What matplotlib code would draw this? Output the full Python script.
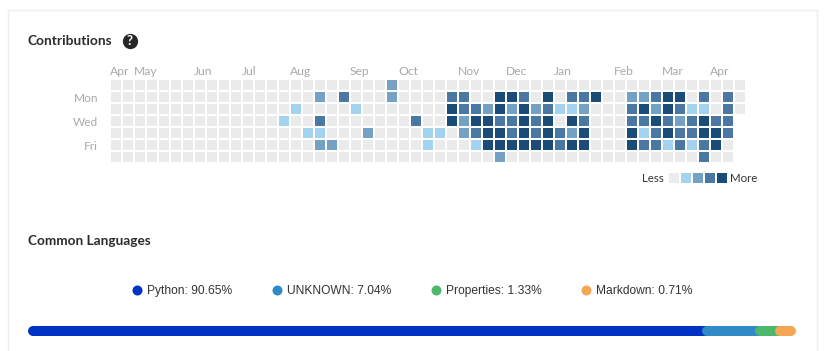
import numpy as np
import matplotlib
matplotlib.use('Agg')
import matplotlib.pyplot as plt
from matplotlib.colors import ListedColormap, BoundaryNorm
from matplotlib.patches import Rectangle

W, H = 826, 351

months = ['Apr', 'May', 'Jun', 'Jul', 'Aug', 'Sep', 'Oct', 'Nov', 'Dec', 'Jan', 'Feb', 'Mar', 'Apr']
month_cols = [0, 2, 7, 11, 15, 20, 24, 29, 33, 37, 42, 46, 50]
day_labels = ['Mon', 'Wed', 'Fri']
day_rows = [1, 3, 5]
level_colors = ['#ebebeb', '#a3d3ee', '#74a1c4', '#4b78a3', '#1b4b77']

# non zero cells per weekday row: {week column: level}
row0 = {23: 2}
row1 = {17: 2, 19: 3, 23: 2, 28: 3, 29: 3, 32: 4, 33: 4, 34: 3, 36: 4, 38: 3, 39: 3, 40: 4,
        43: 2, 44: 2, 45: 3, 46: 4, 47: 4, 49: 3, 51: 3}
row2 = {15: 1, 20: 1, 28: 4, 29: 3, 30: 3, 31: 2, 32: 4, 33: 2, 34: 4, 35: 2, 36: 3, 37: 1,
        38: 1, 39: 2, 43: 3, 44: 4, 45: 2, 46: 4, 47: 3, 48: 1, 49: 1, 51: 3}
row3 = {14: 1, 17: 3, 25: 3, 28: 4, 29: 2, 30: 4, 31: 4, 32: 3, 33: 3, 34: 4, 35: 3, 36: 4,
        38: 4, 39: 3, 43: 3, 44: 3, 45: 4, 46: 3, 47: 2, 48: 3, 49: 4, 50: 3, 51: 3}
row4 = {16: 1, 17: 1, 21: 2, 26: 1, 27: 1, 29: 2, 30: 3, 31: 4, 32: 4, 33: 3, 34: 4, 35: 3,
        36: 4, 37: 3, 38: 2, 39: 4, 43: 4, 44: 1, 45: 3, 46: 4, 47: 3, 48: 3, 49: 4, 50: 4, 51: 3}
row5 = {17: 2, 18: 2, 26: 1, 30: 1, 31: 4, 32: 4, 33: 4, 34: 4, 35: 4, 36: 4, 37: 3, 38: 4,
        39: 4, 43: 4, 44: 3, 45: 3, 46: 1, 47: 3, 48: 1, 49: 3, 50: 4}
row6 = {32: 2, 49: 3}
rows = [row0, row1, row2, row3, row4, row5, row6]
row_cols = [53, 53, 53, 52, 52, 52, 52]

languages = ['Python', 'UNKNOWN', 'Properties', 'Markdown']
percents = [90.65, 7.04, 1.33, 0.71]
# share of the bar each language really gets in the picture (small ones have a min width)
bar_shares = [87.7, 6.9, 2.7, 2.7]
lang_colors = ['#0033c4', '#2f8ac6', '#4cb86b', '#f4a653']

plt.rcParams['font.family'] = ['Lato', 'DejaVu Sans']


def px_axes(fig, left, top, right, bottom):
    return fig.add_axes([left / W, 1 - bottom / H, (right - left) / W, (bottom - top) / H])


fig = plt.figure(figsize=(W / 100, H / 100), dpi=100, facecolor='white')

# pixel overlay for the card, headings and legend text
bg = fig.add_axes([0, 0, 1, 1])
bg.set_xlim(0, W)
bg.set_ylim(H, 0)
bg.axis('off')
bg.add_patch(Rectangle((7.5, 9.5), 809, 400, fc='white', ec='#eeeeee', lw=1))
bg.text(28, 45, 'Contributions', fontsize=9.9, fontweight='bold', color='#2c2c2c', va='baseline')
bg.text(28, 245, 'Common Languages', fontsize=9.8, fontweight='bold', color='#2c2c2c', va='baseline')
bg.plot([129.5], [41], 'o', ms=11, color='#262626', mew=0)
bg.text(129.5, 45, '?', fontsize=9.5, fontweight='bold', color='white', ha='center', va='baseline')

# heatmap
grid = np.ma.masked_all((7, 53))
for r, cells in enumerate(rows):
    grid[r, :row_cols[r]] = 0
    for col, level in cells.items():
        grid[r, col] = level

cmap = ListedColormap(level_colors)
norm = BoundaryNorm(np.arange(-0.5, 5.5), cmap.N)
ax = px_axes(fig, 110, 79, 746, 163)
ax.pcolormesh(np.arange(54), np.arange(8), grid, cmap=cmap, norm=norm, edgecolors='white', linewidth=1.44)
ax.set_xlim(0, 53)
ax.set_ylim(7, 0)
for s in ax.spines.values():
    s.set_visible(False)
ax.xaxis.tick_top()
ax.set_xticks(month_cols, months, ha='left', va='baseline', fontsize=8.7, color='#a9a9a9')
ax.set_yticks(np.array(day_rows) + 0.5, day_labels, fontsize=8.6, color='#a9a9a9')
ax.tick_params(length=0)
ax.tick_params(axis='x', pad=2.9)
ax.tick_params(axis='y', pad=8.6)

# level legend
leg = px_axes(fig, 668, 172, 728, 184)
leg.pcolormesh(np.arange(6), np.arange(2), np.arange(5).reshape(1, 5), cmap=cmap, norm=norm,
               edgecolors='white', linewidth=1.44)
leg.axis('off')
bg.text(664, 182, 'Less', fontsize=8.3, color='#333333', ha='right', va='baseline')
bg.text(730, 182, 'More', fontsize=8.3, color='#333333', ha='left', va='baseline')

# language legend
for lang, pct, col, x in zip(languages, percents, lang_colors, [137, 277, 436, 586]):
    bg.plot([x], [290], 'o', ms=7.2, color=col, mew=0)
    bg.text(x + 10, 294, f'{lang}: {pct:.2f}%', family='Liberation Sans', fontsize=8.65,
            color='#333333', va='baseline')

# stacked bar, rounded segments drawn left to right so each overlaps the previous
bar = px_axes(fig, 28, 321, 796, 341)
bar.set_xlim(0, sum(bar_shares))
bar.set_ylim(-1, 1)
bar.axis('off')
cap = 5 / 768 * sum(bar_shares)
edges = np.cumsum([0] + bar_shares)
for i, col in enumerate(lang_colors):
    end = edges[i + 1] + cap if i < len(lang_colors) - 1 else edges[i + 1] - cap
    bar.hlines(0, edges[i] + cap, end, color=col, lw=7.2, capstyle='round')

fig.savefig('out.png', dpi=100)
